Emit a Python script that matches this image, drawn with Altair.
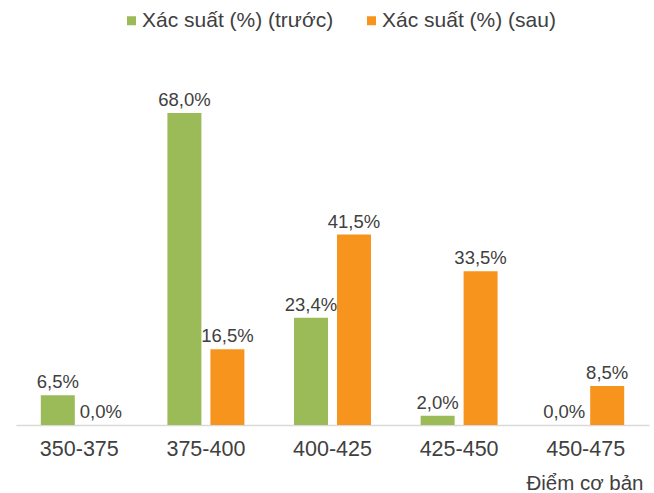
import altair as alt
import pandas as pd

# Score bands and probabilities (%) before / after
groups = ["350-375", "375-400", "400-425", "425-450", "450-475"]
series = ["Xác suất (%) (trước)", "Xác suất (%) (sau)"]
before = [6.5, 68.0, 23.4, 2.0, 0.0]
after = [0.0, 16.5, 41.5, 33.5, 8.5]
colors = ["#9BBB59", "#F7941E"]

rows = []
for g, b, a in zip(groups, before, after):
    for s, v in zip(series, (b, a)):
        rows.append({
            "group": g,
            "series": s,
            "value": v,
            "label": f"{v:.1f}".replace(".", ",") + "%",
        })
df = pd.DataFrame(rows)

FONT = "Liberation Sans"
TEXT = "#404040"

x = alt.X(
    "group:N",
    sort=groups,
    scale=alt.Scale(paddingInner=0, paddingOuter=0),
    axis=alt.Axis(
        title="Điểm cơ bản",
        labelAngle=0,
        ticks=False,
        labelPadding=13,
        labelFontSize=21.5,
        labelFont=FONT,
        labelColor=TEXT,
        domainColor="#D9D9D9",
        domainWidth=1.5,
        grid=False,
        titleFont=FONT,
        titleFontSize=20.5,
        titleFontWeight="normal",
        titleColor=TEXT,
        titleAlign="right",
        titleBaseline="alphabetic",
        titleX=627,
        titleY=64,
    ),
)
xoff = alt.XOffset(
    "series:N",
    sort=series,
    scale=alt.Scale(paddingInner=0.209, paddingOuter=0.577),
)
y = alt.Y("value:Q", scale=alt.Scale(domain=[0, 80]), axis=None)

bars = alt.Chart(df).mark_bar().encode(
    x=x,
    xOffset=xoff,
    y=y,
    color=alt.Color(
        "series:N",
        sort=series,
        scale=alt.Scale(domain=series, range=colors),
        legend=alt.Legend(
            title=None,
            orient="none",
            direction="horizontal",
            legendX=105,
            legendY=-48,
            symbolType="square",
            symbolSize=81,
            symbolStrokeWidth=0,
            labelFont=FONT,
            labelFontSize=21,
            labelColor=TEXT,
            labelOffset=0,
            labelLimit=400,
            columnPadding=27,
            padding=0,
        ),
    ),
)

labels = alt.Chart(df).mark_text(
    baseline="alphabetic",
    dy=-7,
    font=FONT,
    fontSize=18.5,
    color=TEXT,
).encode(
    x=x,
    xOffset=xoff,
    y=y,
    text="label:N",
)

chart = (
    alt.layer(bars, labels)
    .properties(
        width=633,
        height=367,
        autosize=alt.AutoSizeParams(type="none"),
        padding={"left": 16, "top": 58, "right": 5, "bottom": 68},
        background="white",
    )
    .configure_view(strokeWidth=0)
)

chart.save("out.html", embed_options={"renderer": "svg", "actions": False})
